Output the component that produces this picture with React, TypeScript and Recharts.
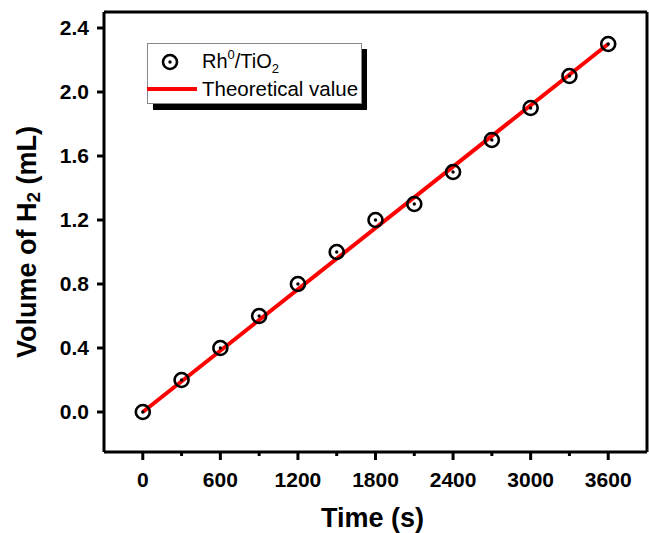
import React from 'react';
import { ComposedChart, XAxis, YAxis, Scatter, Line, ReferenceLine, Legend } from 'recharts';

const times = [0, 300, 600, 900, 1200, 1500, 1800, 2100, 2400, 2700, 3000, 3300, 3600];
const volumes = [0, 0.2, 0.4, 0.6, 0.8, 1.0, 1.2, 1.3, 1.5, 1.7, 1.9, 2.1, 2.3];

const theoryTimes = [0, 3600];
const theoryVolumes = [0, 2.3];

const xTicks = [0, 300, 600, 900, 1200, 1500, 1800, 2100, 2400, 2700, 3000, 3300, 3600];
const yTicks = [0, 0.4, 0.8, 1.2, 1.6, 2.0, 2.4];

const FONT = "Arial, 'Liberation Sans', sans-serif";

const points = times.map((t, i) => ({ t, v: volumes[i] }));
const theory = theoryTimes.map((t, i) => ({ t, v: theoryVolumes[i] }));

// open circle with a dot in the middle
const Marker = (props: any) => {
	const { cx, cy } = props;
	return (
		<g>
			<circle cx={cx} cy={cy} r={7} fill="none" stroke="#000" strokeWidth={2.6} />
			<circle cx={cx} cy={cy} r={1.7} fill="#000" />
		</g>
	);
};

// major ticks every 600 with labels, minor ones in between
const XTick = (props: any) => {
	const { x, y, payload } = props;
	const major = payload.value % 600 === 0;
	const axisY = y - 20;
	return (
		<g>
			<line x1={x} x2={x} y1={axisY} y2={axisY + (major ? 8 : 4)} stroke="#000" strokeWidth={3} />
			{major && (
				<text x={x} y={y} dy="0.71em" textAnchor="middle" fill="#000"
					style={{ fontSize: 21, fontWeight: 'bold', fontFamily: FONT }}>
					{payload.value}
				</text>
			)}
		</g>
	);
};

const YTitle = (props: any) => {
	const { viewBox } = props;
	const cx = viewBox.x + 27;
	const cy = viewBox.y + viewBox.height / 2 + 10;
	return (
		<text x={cx} y={cy} transform={`rotate(-90, ${cx}, ${cy})`} textAnchor="middle" dominantBaseline="central"
			fill="#000" style={{ fontSize: 27, fontWeight: 'bold', fontFamily: FONT }}>
			Volume of H<tspan fontSize={19} dy={6}>2</tspan><tspan dy={-6}> (mL)</tspan>
		</text>
	);
};

const XTitle = (props: any) => {
	const { viewBox } = props;
	const cx = viewBox.x + viewBox.width / 2 - 3;
	return (
		<text x={cx} y={527} textAnchor="middle" fill="#000"
			style={{ fontSize: 27, fontWeight: 'bold', fontFamily: FONT }}>
			Time (s)
		</text>
	);
};

const LegendBox = () => (
	<svg width={224} height={70} style={{ display: 'block' }}>
		<rect x={6} y={6} width={214} height={61} fill="#000" />
		<rect x={0.5} y={0.5} width={214} height={60} fill="#fff" stroke="#888" strokeWidth={1} />
		<circle cx={23} cy={19} r={7} fill="none" stroke="#000" strokeWidth={2.6} />
		<circle cx={23} cy={19} r={1.7} fill="#000" />
		<text x={55} y={25} fill="#000" style={{ fontSize: 20, fontFamily: FONT }}>
			Rh<tspan fontSize={13} dy={-9}>0</tspan><tspan dy={9}>/TiO</tspan><tspan fontSize={13} dy={5}>2</tspan>
		</text>
		<line x1={0} x2={50} y1={46} y2={46} stroke="#ff0000" strokeWidth={4} />
		<text x={55} y={53} fill="#000" style={{ fontSize: 20.5, fontFamily: FONT }}>
			Theoretical value
		</text>
	</svg>
);

export default function App() {
	return (
		<div style={{ position: 'absolute', left: 0, top: 0, background: '#fff' }}>
			<ComposedChart width={649} height={533} margin={{ top: 12, right: 2, bottom: 0, left: 0 }}>
				<XAxis
					type="number"
					dataKey="t"
					domain={[-300, 3900]}
					ticks={xTicks}
					interval={0}
					height={81}
					tickSize={8}
					tickMargin={12}
					tickLine={false}
					tick={<XTick />}
					axisLine={{ stroke: '#000', strokeWidth: 3 }}
					label={<XTitle />}
				/>
				<YAxis
					type="number"
					dataKey="v"
					domain={[-0.25, 2.5]}
					ticks={yTicks}
					interval={0}
					width={104}
					tickSize={7}
					tickMargin={8}
					tickFormatter={(v: number) => v.toFixed(1)}
					tick={{ fontSize: 21, fontWeight: 'bold', fill: '#000', fontFamily: FONT }}
					tickLine={{ stroke: '#000', strokeWidth: 3 }}
					axisLine={{ stroke: '#000', strokeWidth: 3 }}
					label={<YTitle />}
				/>
				<ReferenceLine y={2.5} stroke="#000" strokeWidth={3} />
				<ReferenceLine x={3900} stroke="#000" strokeWidth={3} />
				<Line
					data={theory}
					dataKey="v"
					type="linear"
					stroke="#ff0000"
					strokeWidth={4}
					dot={false}
					activeDot={false}
					isAnimationActive={false}
				/>
				<Scatter data={points} dataKey="v" shape={<Marker />} isAnimationActive={false} />
				<Legend
					layout="vertical"
					align="center"
					verticalAlign="middle"
					content={<LegendBox />}
					wrapperStyle={{ position: 'absolute', left: 147, top: 43, width: 224, height: 70 }}
				/>
			</ComposedChart>
		</div>
	);
}
